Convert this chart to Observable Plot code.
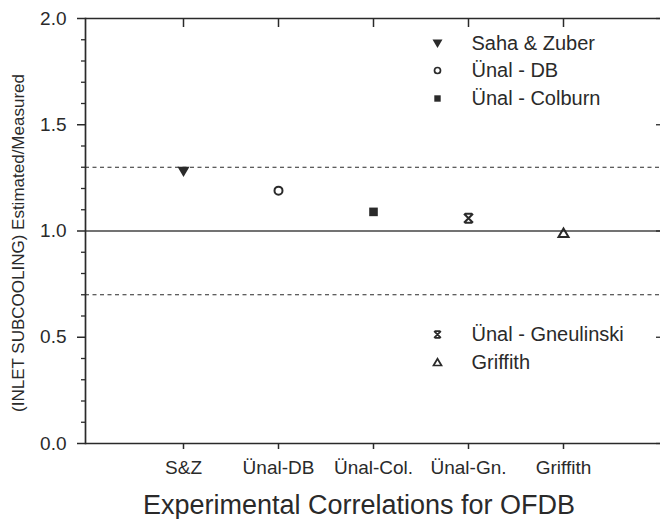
<!DOCTYPE html>
<html><head><meta charset="utf-8">
<script src="https://cdn.jsdelivr.net/npm/d3@7"></script>
<script src="https://cdn.jsdelivr.net/npm/@observablehq/plot@0.6"></script>
<style>
html,body{margin:0;padding:0;background:#fff;overflow:hidden}
</style></head><body><div id="chart"></div>
<script>
// ---- data ----
const categories = ["S&Z", "Ünal-DB", "Ünal-Col.", "Ünal-Gn.", "Griffith"];
const correlations = ["Saha & Zuber", "Ünal - DB", "Ünal - Colburn", "Ünal - Gneulinski", "Griffith"];
const ratios = [1.28, 1.19, 1.09, 1.06, 0.99];
const referenceLine = [1.0];
const bandLines = [0.7, 1.3];
const yTicks = [0.0, 0.5, 1.0, 1.5, 2.0];
const yMinorTicks = [0.1, 0.2, 0.3, 0.4, 0.6, 0.7, 0.8, 0.9, 1.1, 1.2, 1.3, 1.4, 1.6, 1.7, 1.8, 1.9];
const xTitle = "Experimental Correlations for OFDB";
const yTitle = "(INLET SUBCOOLING) Estimated/Measured";

const rows = categories.map((c, i) => ({category: c, name: correlations[i], ratio: ratios[i]}));

// ---- styles ----
const ink = "#2a2a2a";
const rad = size => Math.sqrt(size / Math.PI);
const triDown = {draw(ctx, size) { const r = rad(size); ctx.moveTo(-r, -0.8 * r); ctx.lineTo(r, -0.8 * r); ctx.lineTo(0, 0.9 * r); ctx.closePath(); }};
const triUp = {draw(ctx, size) { const r = rad(size); ctx.moveTo(-r, 0.75 * r); ctx.lineTo(r, 0.75 * r); ctx.lineTo(0, -0.95 * r); ctx.closePath(); }};
const squareS = {draw(ctx, size) { const r = rad(size); ctx.rect(-r, -r, 2 * r, 2 * r); }};
const star = {draw(ctx, size) { const r = rad(size); ctx.moveTo(-r, -r); ctx.lineTo(r, r); ctx.moveTo(-r, r); ctx.lineTo(r, -r); ctx.moveTo(-r * 0.8, -r); ctx.lineTo(r * 0.8, -r); ctx.moveTo(-r * 0.8, r); ctx.lineTo(r * 0.8, r); }};
const markerStyles = [
  {symbol: triDown, fill: ink, stroke: "none", r: 6, lr: 5},
  {symbol: "circle", fill: "none", stroke: ink, strokeWidth: 2, r: 4, lr: 3},
  {symbol: squareS, fill: ink, stroke: "none", r: 4.3, lr: 3.2},
  {symbol: star, fill: "none", stroke: ink, strokeWidth: 2, r: 4.5, lr: 3.4},
  {symbol: triUp, fill: "none", stroke: ink, strokeWidth: 2, r: 5, lr: 4}
];
const legendDy = [25, 52, 80, 316, 344];

const marks = [
  Plot.ruleY(bandLines, {stroke: ink, strokeWidth: 1, strokeDasharray: "4,3.5"}),
  Plot.ruleY(referenceLine, {stroke: "#444", strokeWidth: 1.3}),
  Plot.ruleY([0], {stroke: ink, strokeWidth: 1.7}),
  Plot.ruleY([2], {stroke: ink, strokeWidth: 1.7}),
  Plot.frame({anchor: "left", stroke: ink, strokeWidth: 1.7}),
  Plot.axisY(yTicks, {anchor: "left", tickSize: 8, tickPadding: 11, fontSize: 19, strokeWidth: 1.5, tickFormat: d => d.toFixed(1), label: null}),
  Plot.axisY(yMinorTicks, {anchor: "left", tickSize: 4, strokeWidth: 1.3, tickFormat: () => "", label: null}),
  Plot.axisY(yTicks, {anchor: "right", tickSize: 5, dx: -5, strokeWidth: 1.3, tickFormat: () => "", label: null}),
  Plot.axisX({anchor: "bottom", tickSize: 6, tickPadding: 11, fontSize: 19, strokeWidth: 1.5, label: null}),
  Plot.axisX({anchor: "top", tickSize: 8, dy: 8, strokeWidth: 1.5, tickFormat: () => "", label: null}),
  Plot.text([xTitle], {frameAnchor: "bottom", dy: 62, dx: -14, fontSize: 27, lineAnchor: "middle", fill: ink}),
  Plot.text([yTitle], {frameAnchor: "left", textAnchor: "middle", lineAnchor: "middle", rotate: -90, dx: -67, dy: 12, fontSize: 17, fill: ink})
];

rows.forEach((row, i) => {
  const s = markerStyles[i];
  marks.push(Plot.dot([row], {x: "category", y: "ratio", symbol: s.symbol, fill: s.fill, stroke: s.stroke, strokeWidth: s.strokeWidth, r: s.r}));
  marks.push(Plot.dot([row], {frameAnchor: "top-left", dx: 352, dy: legendDy[i], symbol: s.symbol, fill: s.fill, stroke: s.stroke, strokeWidth: s.strokeWidth ? 1.7 : undefined, r: s.lr}));
  marks.push(Plot.text([row], {frameAnchor: "top-left", dx: 386, dy: legendDy[i], text: "name", textAnchor: "start", lineAnchor: "middle", fontSize: 20, fill: ink}));
});

const chart = Plot.plot({
  width: 660, height: 519,
  marginLeft: 85, marginRight: 0, marginTop: 18, marginBottom: 76,
  style: {fontFamily: "'Liberation Sans', Arial, sans-serif", color: ink, background: "#fff"},
  x: {type: "point", domain: categories, padding: 1, label: null},
  y: {domain: [0, 2], label: null},
  marks
});
document.getElementById("chart").appendChild(chart);
</script></body></html>
